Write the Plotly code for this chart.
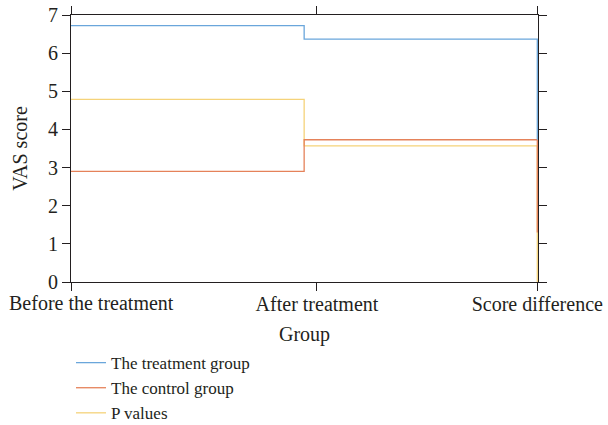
import plotly.graph_objects as go

categories = ["Before the treatment", "After treatment", "Score difference"]
treatment = [6.72, 6.37, 3.73]
control = [2.90, 3.73, 1.30]
p_values = [4.79, 3.57, 0.0]
y_ticks = [0, 1, 2, 3, 4, 5, 6, 7]

xpos = list(range(len(categories)))
FONT = "Liberation Serif"
INK = "#231f20"

fig = go.Figure()
# drawn bottom to top: P values, control, treatment
fig.add_trace(go.Scatter(x=xpos, y=p_values, mode="lines", line_shape="hv",
                         name="P values", legendrank=3,
                         line=dict(color="#f5d37a", width=1.3)))
fig.add_trace(go.Scatter(x=xpos, y=control, mode="lines", line_shape="hv",
                         name="The control group", legendrank=2,
                         line=dict(color="#e5825a", width=1.3)))
fig.add_trace(go.Scatter(x=xpos, y=treatment, mode="lines", line_shape="hv",
                         name="The treatment group", legendrank=1,
                         line=dict(color="#6aa6db", width=1.3)))

tickvals = [0, 1.055, 2]
fig.update_layout(
    width=608, height=425,
    margin=dict(l=71, r=70, t=15, b=5, autoexpand=False),
    plot_bgcolor="white", paper_bgcolor="white",
    font=dict(family=FONT, size=20, color=INK),
    showlegend=True,
    legend=dict(x=0.0, xanchor="left", y=0.185, yanchor="top",
                bgcolor="rgba(0,0,0,0)", font=dict(size=17, color=INK),
                tracegroupgap=0, itemwidth=30),
    xaxis=dict(range=[0, 2.003], tickmode="array", tickvals=tickvals,
               ticktext=["", categories[1], categories[2]],
               showgrid=False, zeroline=False, automargin=False,
               showline=True, linecolor=INK, linewidth=1.2, layer="below traces",
               mirror="ticks", ticks="outside", ticklen=8, tickcolor=INK,
               tickwidth=1.2, ticklabelstandoff=-4,
               title=dict(text="Group", font=dict(size=20), standoff=12)),
    yaxis=dict(range=[0, 7], domain=[0.3407, 1], tickmode="array", tickvals=y_ticks,
               showgrid=False, zeroline=False, automargin=False,
               showline=True, linecolor=INK, linewidth=1.2, layer="below traces",
               mirror="ticks", ticks="outside", ticklen=8, tickcolor=INK,
               tickwidth=1.2,
               title=dict(text="VAS score", font=dict(size=20), standoff=14)),
    annotations=[dict(text=categories[0], x=0, xref="x", y=0, yref="y",
                      xanchor="left", yanchor="top", xshift=-64, yshift=-8,
                      showarrow=False, font=dict(size=20, color=INK))],
)

fig.write_html("out.html", config={"displayModeBar": False},
               post_script="document.body.style.margin='0';document.body.style.overflow='hidden';")
